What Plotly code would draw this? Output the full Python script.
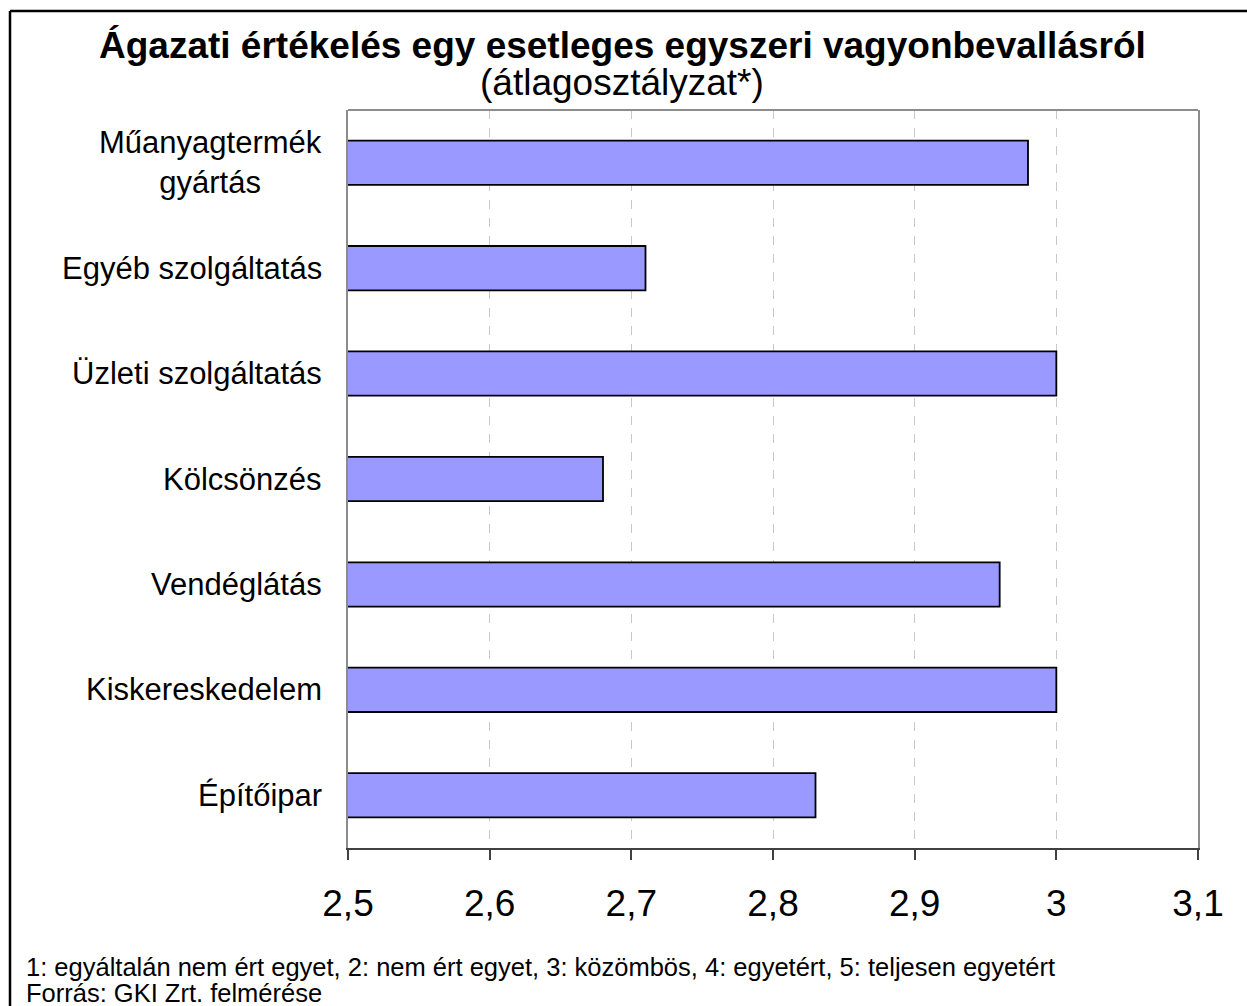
import plotly.graph_objects as go

categories = ["Műanyagtermék<br>gyártás", "Egyéb szolgáltatás", "Üzleti szolgáltatás",
              "Kölcsönzés", "Vendéglátás", "Kiskereskedelem", "Építőipar"]
values = [2.98, 2.71, 3.00, 2.68, 2.96, 3.00, 2.83]
tick_vals = [2.5, 2.6, 2.7, 2.8, 2.9, 3.0, 3.1]
tick_text = ["2,5", "2,6", "2,7", "2,8", "2,9", "3", "3,1"]
title = "<b>Ágazati értékelés egy esetleges egyszeri vagyonbevallásról</b>"
subtitle = "(átlagosztályzat*)"
footnote_1 = "1: egyáltalán nem ért egyet, 2: nem ért egyet, 3: közömbös, 4: egyetért, 5: teljesen egyetért"
footnote_2 = "Forrás: GKI Zrt. felmérése"

W, H = 1247, 1006
L, R, T, B = 348, 1198, 110, 848
pw, ph = R - L, B - T

def px(x):
    return (x - L) / pw

def py(y):
    return (B - y) / ph

font = "Liberation Sans, Arial, sans-serif"

fig = go.Figure()
fig.add_trace(go.Bar(
    y=categories, x=values, orientation="h",
    marker=dict(color="#9999FF", line=dict(color="black", width=1.8)),
))

annotations = [
    dict(text=title, x=px(622), y=py(46), xref="paper", yref="paper", showarrow=False,
         xanchor="center", yanchor="middle", font=dict(family=font, size=37, color="black")),
    dict(text=subtitle, x=px(622), y=py(83), xref="paper", yref="paper", showarrow=False,
         xanchor="center", yanchor="middle", font=dict(family=font, size=37, color="black")),
    dict(text=footnote_1, x=px(24), y=py(967), xref="paper", yref="paper", showarrow=False,
         xanchor="left", yanchor="middle", align="left",
         font=dict(family=font, size=25.5, color="black")),
    dict(text=footnote_2, x=px(24), y=py(993), xref="paper", yref="paper", showarrow=False,
         xanchor="left", yanchor="middle", align="left",
         font=dict(family=font, size=25.5, color="black")),
]
for c in categories:
    annotations.append(dict(text=c, x=px(324), y=c, xref="paper", yref="y", showarrow=False,
                            xanchor="right", yanchor="middle", align="center",
                            font=dict(family=font, size=31, color="black")))

shapes = [
    dict(type="line", xref="paper", yref="paper", x0=0, x1=1, y0=1, y1=1,
         line=dict(color="#8c8c8c", width=2)),
    dict(type="line", xref="paper", yref="paper", x0=px(10), x1=px(W + 5), y0=py(11), y1=py(11),
         line=dict(color="black", width=2.5)),
    dict(type="line", xref="paper", yref="paper", x0=px(10), x1=px(10), y0=py(11), y1=py(H + 5),
         line=dict(color="black", width=2.5)),
]

fig.update_layout(
    width=W, height=H,
    margin=dict(l=L, r=W - R, t=T, b=H - B, pad=0),
    paper_bgcolor="white", plot_bgcolor="white",
    showlegend=False,
    bargap=0.58,
    annotations=annotations,
    shapes=shapes,
    font=dict(family=font, color="black"),
    xaxis=dict(range=[2.5, 3.1], tickvals=tick_vals, ticktext=tick_text,
               showgrid=True, gridcolor="#c8c8c8", griddash="dash", gridwidth=1,
               showline=True, linecolor="#404040", linewidth=2,
               ticks="outside", ticklen=10, tickwidth=1.5, tickcolor="#404040",
               tickfont=dict(family=font, size=37, color="black"),
               ticklabelstandoff=12, zeroline=False, fixedrange=True),
    yaxis=dict(type="category", categoryorder="array", categoryarray=categories,
               autorange="reversed", showticklabels=False, ticks="",
               showgrid=False, zeroline=False,
               showline=True, mirror=True, linecolor="#8c8c8c", linewidth=2, fixedrange=True),
)

fig.write_html("out.html", config={"displayModeBar": False},
               post_script="document.body.style.margin='0';document.body.style.overflow='hidden';")
